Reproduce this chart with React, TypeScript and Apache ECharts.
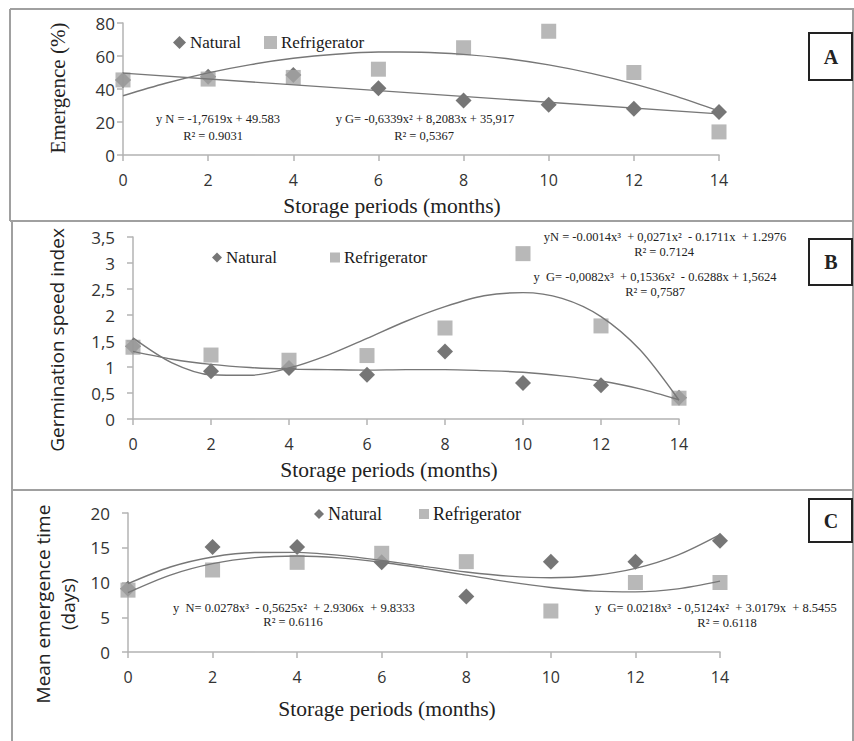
import React, { useEffect, useRef } from "react";
import * as echarts from "echarts";

// ---- Data ----
const months = [0, 2, 4, 6, 8, 10, 12, 14];
const trendMonths = [0, 1, 2, 3, 4, 5, 6, 7, 8, 9, 10, 11, 12, 13, 14];

// Panel A: Emergence (%)
const emergNatural = [45.5, 47.5, 48.5, 40.5, 33, 30.5, 28, 26];
const emergRefrig = [45.5, 46, 47, 52, 65, 75, 50, 14];
const emergTrendNaturalX = [0, 14];
const emergTrendNatural = [49.6, 24.9];
const emergTrendRefrig = [35.9, 43.5, 49.8, 54.8, 58.6, 61.1, 62.4, 62.3, 61.0, 58.5, 54.6, 49.5, 43.1, 35.5, 26.6];

// Panel B: Germination speed index
const gsiNatural = [1.4, 0.92, 0.98, 0.85, 1.3, 0.69, 0.65, 0.41];
const gsiRefrig = [1.38, 1.23, 1.13, 1.22, 1.75, 3.18, 1.79, 0.4];
const gsiTrendNatural = [1.3, 1.15, 1.05, 0.99, 0.96, 0.95, 0.94, 0.95, 0.95, 0.93, 0.9, 0.83, 0.73, 0.58, 0.37];
const gsiTrendRefrig = [1.56, 1.08, 0.85, 0.84, 0.98, 1.23, 1.55, 1.88, 2.16, 2.37, 2.43, 2.32, 1.97, 1.33, 0.36];

// Panel C: Mean emergence time (days)
const metNatural = [9.1, 15.1, 15.1, 12.9, 8, 13, 13, 16];
const metRefrig = [8.9, 11.8, 12.9, 14.2, 13, 5.9, 10, 10];
const metTrendNatural = [9.83, 12.23, 13.67, 14.31, 14.34, 13.9, 13.17, 12.32, 11.51, 10.91, 10.69, 11.01, 12.04, 13.95, 16.9];
const metTrendRefrig = [8.55, 11.07, 12.71, 13.58, 13.81, 13.55, 12.92, 12.04, 11.06, 10.09, 9.29, 8.76, 8.65, 9.08, 10.19];

const seriesNames = ["Natural", "Refrigerator"];
const panelLetters = ["A", "B", "C"];
const xTitle = "Storage periods (months)";
const yTitles = ["Emergence (%)", "Germination speed index", "Mean emergence time\n(days)"];
const equationsA = ["y N = -1,7619x + 49.583", "R² = 0.9031", "y G= -0,6339x² + 8,2083x + 35,917", "R² = 0,5367"];
const equationsB = [
  "yN = -0.0014x³  + 0,0271x²  - 0.1711x  + 1.2976",
  "R² = 0.7124",
  "y  G= -0,0082x³  + 0,1536x²  - 0.6288x + 1,5624",
  "R² = 0,7587",
];
const equationsC = [
  "y  N= 0.0278x³  - 0,5625x²  + 2.9306x  + 9.8333",
  "R² = 0.6116",
  "y  G= 0.0218x³  - 0,5124x²  + 3.0179x  + 8.5455",
  "R² = 0.6118",
];

const SERIF = "'Liberation Serif', 'Times New Roman', serif";
const SANS = "'Open Sans', 'Liberation Sans', sans-serif";
const DARK = "#545454";
const LIGHT = "#a6a6a6";
const TREND = "#777777";
const AXIS = "#b3b3b3";
const BORDER = "#a0a0a0";

const pair = (xs: number[], ys: number[]) => xs.map((x, i) => [x, ys[i]]);

export default function App() {
  const ref = useRef<HTMLDivElement>(null);
  useEffect(() => {
    document.body.style.margin = "0";
    const chart = echarts.init(ref.current!, null, { renderer: "svg" });

    const grids = [
      { left: 123, top: 23, width: 596, height: 132 },
      { left: 133, top: 237, width: 546, height: 182 },
      { left: 128, top: 513, width: 592, height: 139 },
    ];
    const yRanges = [
      { min: 0, max: 80, interval: 20 },
      { min: 0, max: 3.5, interval: 0.5 },
      { min: 0, max: 20, interval: 5 },
    ];
    const yLabelMargin = [8, 18, 18];

    const xAxes = grids.map((_, i) => ({
      type: "value",
      gridIndex: i,
      min: 0,
      max: 14,
      interval: 2,
      splitLine: { show: false },
      axisLine: { show: true, lineStyle: { color: AXIS, width: 1.5 } },
      axisTick: { show: true, length: 6, lineStyle: { color: AXIS, width: 1.5 } },
      axisLabel: { color: "#333", fontFamily: SANS, fontSize: 16, margin: 17 },
    }));
    const yAxes = grids.map((_, i) => ({
      type: "value",
      gridIndex: i,
      ...yRanges[i],
      splitLine: { show: false },
      axisLine: { show: true, lineStyle: { color: AXIS, width: 1.5 } },
      axisTick: { show: true, length: 6, lineStyle: { color: AXIS, width: 1.5 } },
      axisLabel: {
        color: "#333",
        fontFamily: SANS,
        fontSize: 17,
        margin: yLabelMargin[i],
        formatter: (v: number) => String(v).replace(".", ","),
      },
    }));

    const panels = [
      { nat: emergNatural, ref: emergRefrig, tN: pair(emergTrendNaturalX, emergTrendNatural), tR: pair(trendMonths, emergTrendRefrig) },
      { nat: gsiNatural, ref: gsiRefrig, tN: pair(trendMonths, gsiTrendNatural), tR: pair(trendMonths, gsiTrendRefrig) },
      { nat: metNatural, ref: metRefrig, tN: pair(trendMonths, metTrendNatural), tR: pair(trendMonths, metTrendRefrig) },
    ];
    const series: any[] = [];
    panels.forEach((p, i) => {
      series.push({
        name: seriesNames[0], type: "scatter", xAxisIndex: i, yAxisIndex: i,
        symbol: "diamond", symbolSize: [16, 16], itemStyle: { color: DARK },
        data: pair(months, p.nat), z: 2,
      });
      series.push({
        name: seriesNames[1], type: "scatter", xAxisIndex: i, yAxisIndex: i,
        symbol: "rect", symbolSize: 15, itemStyle: { color: LIGHT },
        data: pair(months, p.ref), z: 3,
      });
      series.push({
        name: "trendN" + i, type: "line", xAxisIndex: i, yAxisIndex: i,
        showSymbol: false, symbol: "none", smooth: 0.3,
        lineStyle: { color: TREND, width: 1.4 }, data: p.tN, z: 4,
      });
      series.push({
        name: "trendR" + i, type: "line", xAxisIndex: i, yAxisIndex: i,
        showSymbol: false, symbol: "none", smooth: 0.3,
        lineStyle: { color: TREND, width: 1.4 }, data: p.tR, z: 4,
      });
    });

    const legendCfg = [
      { left: 173, top: 34, itemGap: 23, w: 13, h: 13, fs: 17 },
      { left: 212, top: 249, itemGap: 53, w: 10, h: 10, fs: 17 },
      { left: 314, top: 505, itemGap: 37, w: 10, h: 10, fs: 18 },
    ];
    const legends = legendCfg.map((l) => ({
      data: seriesNames,
      left: l.left,
      top: l.top,
      itemGap: l.itemGap,
      itemWidth: l.w,
      itemHeight: l.h,
      selectedMode: false,
      padding: 0,
      textStyle: { fontFamily: SERIF, fontSize: l.fs, color: "#1a1a1a", padding: [0, 0, 0, -1] },
    }));

    const txt = (text: string, x: number, y: number, size: number, family = SERIF, extra: any = {}) => ({
      type: "text",
      x, y,
      ...extra,
      style: {
        text, fontFamily: family, fontSize: size, fill: "#222",
        textAlign: "center", textVerticalAlign: "middle", ...(extra.style || {}),
      },
    });

    const graphic: any[] = [
      // panel borders
      { type: "line", shape: { x1: 10, y1: 9, x2: 854, y2: 9 }, style: { stroke: BORDER, lineWidth: 2 } },
      { type: "line", shape: { x1: 10, y1: 221, x2: 854, y2: 221 }, style: { stroke: BORDER, lineWidth: 2 } },
      { type: "line", shape: { x1: 12, y1: 490, x2: 854, y2: 490 }, style: { stroke: BORDER, lineWidth: 2 } },
      { type: "line", shape: { x1: 10, y1: 9, x2: 10, y2: 221 }, style: { stroke: BORDER, lineWidth: 2 } },
      { type: "line", shape: { x1: 12, y1: 221, x2: 12, y2: 741 }, style: { stroke: BORDER, lineWidth: 2 } },
      { type: "line", shape: { x1: 853, y1: 9, x2: 853, y2: 741 }, style: { stroke: BORDER, lineWidth: 2 } },
      // letter boxes
      { type: "rect", shape: { x: 809, y: 33, width: 43, height: 47 }, style: { fill: "#fff", stroke: "#222", lineWidth: 2 } },
      { type: "rect", shape: { x: 809, y: 239, width: 43, height: 46 }, style: { fill: "#fff", stroke: "#222", lineWidth: 2 } },
      { type: "rect", shape: { x: 809, y: 499, width: 43, height: 43 }, style: { fill: "#fff", stroke: "#222", lineWidth: 2 } },
      txt(panelLetters[0], 831, 57, 20, SERIF, { style: { fontWeight: "bold" } }),
      txt(panelLetters[1], 831, 262, 20, SERIF, { style: { fontWeight: "bold" } }),
      txt(panelLetters[2], 831, 521, 20, SERIF, { style: { fontWeight: "bold" } }),
      // x titles
      txt(xTitle, 392, 206, 21.5),
      txt(xTitle, 389, 470, 21.5),
      txt(xTitle, 387, 709, 21.5),
      // y titles
      txt(yTitles[0], 58, 88, 21, SERIF, { rotation: Math.PI / 2 }),
      txt(yTitles[1], 57, 340, 19, SANS, { rotation: Math.PI / 2 }),
      txt(yTitles[2], 55, 604, 19, SANS, { rotation: Math.PI / 2, style: { lineHeight: 25 } }),
      // equations A
      txt(equationsA[0], 218, 119, 12.5),
      txt(equationsA[1], 213, 136, 12.5),
      txt(equationsA[2], 425, 119, 12.5),
      txt(equationsA[3], 424, 136, 12.5),
      // equations B
      txt(equationsB[0], 665, 237, 12.5),
      txt(equationsB[1], 664, 252, 12.5),
      txt(equationsB[2], 655, 277, 12.5),
      txt(equationsB[3], 655, 292, 12.5),
      // equations C
      txt(equationsC[0], 173, 608, 12.5, SERIF, { style: { textAlign: "left" } }),
      txt(equationsC[1], 293, 622, 12.5),
      txt(equationsC[2], 595, 608, 12.5, SERIF, { style: { textAlign: "left" } }),
      txt(equationsC[3], 727, 623, 12.5),
    ];

    chart.setOption({
      animation: false,
      backgroundColor: "#fff",
      grid: grids,
      xAxis: xAxes,
      yAxis: yAxes,
      legend: legends,
      series,
      graphic,
    });
    return () => chart.dispose();
  }, []);
  return <div ref={ref} style={{ width: 854, height: 741 }} />;
}
